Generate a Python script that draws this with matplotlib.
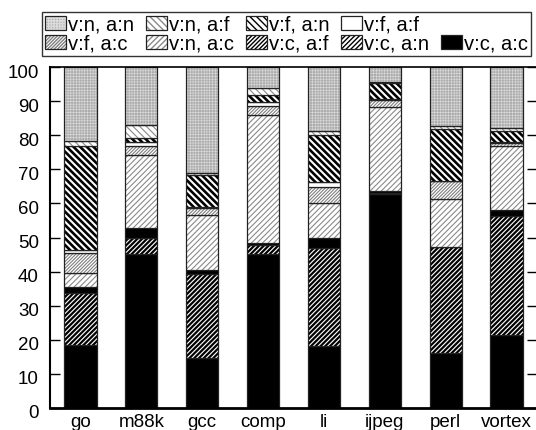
import numpy as np
import matplotlib
matplotlib.use("Agg")
import matplotlib.pyplot as plt
import matplotlib.transforms as mtransforms
from matplotlib.patches import Patch

plt.rcParams["font.family"] = ["Liberation Sans", "DejaVu Sans"]

benchmarks = ["go", "m88k", "gcc", "comp", "li", "ijpeg", "perl", "vortex"]

# percentage of each class per benchmark, stacked bottom to top
v_c_a_c = [18.6, 45.2, 14.8, 45.2, 18.2, 62.9, 16.2, 21.3]
v_c_a_n = [15.1, 4.8, 24.4, 2.5, 28.7, 0.2, 30.9, 34.9]
v_c_a_f = [1.7, 2.7, 1.3, 0.6, 2.9, 0.4, 0.2, 2.0]
v_n_a_c = [4.3, 21.5, 16.0, 37.7, 10.4, 24.8, 14.0, 18.6]
v_f_a_c = [5.8, 2.6, 2.1, 2.6, 4.6, 2.1, 5.2, 0.9]
v_f_a_f = [0.8, 1.3, 0.2, 1.0, 1.6, 0.3, 0.2, 0.4]
v_f_a_n = [30.5, 1.1, 9.6, 2.3, 13.8, 4.5, 15.2, 3.1]
v_n_a_f = [1.4, 3.9, 0.6, 2.0, 0.9, 0.5, 0.8, 0.8]
v_n_a_n = [21.8, 16.9, 31.0, 6.1, 18.9, 4.3, 17.3, 18.0]

# label, values, face colour, hatch, hatch colour, hatch line width
layers = [
    ("v:c, a:c", v_c_a_c, "black", None, "black", 1.0),
    ("v:c, a:n", v_c_a_n, "white", "/" * 7, "black", 1.6),
    ("v:c, a:f", v_c_a_f, "white", "/" * 8, "black", 2.2),
    ("v:n, a:c", v_n_a_c, "white", "/" * 6, "#8a8a8a", 0.8),
    ("v:f, a:c", v_f_a_c, "white", "/" * 10, "#808080", 0.8),
    ("v:f, a:f", v_f_a_f, "white", None, "black", 1.0),
    ("v:f, a:n", v_f_a_n, "white", "\\" * 5, "black", 1.9),
    ("v:n, a:f", v_n_a_f, "white", "\\" * 5, "#8a8a8a", 0.8),
    ("v:n, a:n", v_n_a_n, "#acacac", "+" * 6, "#dcdcdc", 0.4),
]

fig = plt.figure(figsize=(5.36, 4.30), dpi=100)
ax = fig.add_axes([50 / 536, 22 / 430, 487 / 536, 341 / 430])

x = np.arange(len(benchmarks))
width = 0.53
bottom = np.zeros(len(benchmarks))
handles = {}
for label, vals, face, hatch, hcol, hlw in layers:
    vals = np.array(vals)
    with plt.rc_context({"hatch.linewidth": hlw}):
        fill = ax.bar(x, vals, width, bottom=bottom, color=face,
                      edgecolor=hcol, linewidth=0, hatch=hatch)
        for p in fill:
            if hasattr(p, "set_hatch_linewidth"):
                p.set_hatch_linewidth(hlw)
        h_fill = Patch(facecolor=face, edgecolor=hcol, linewidth=0, hatch=hatch)
        if hasattr(h_fill, "set_hatch_linewidth"):
            h_fill.set_hatch_linewidth(hlw)
    ax.bar(x, vals, width, bottom=bottom, fill=False,
           edgecolor="#222222", linewidth=0.9)
    h_edge = Patch(fill=False, edgecolor="#222222", linewidth=0.9)
    handles[label] = (h_fill, h_edge)
    bottom += vals

ax.set_xlim(-0.5, 7.5)
ax.set_ylim(0, 100)
ax.set_xticks(x)
ax.set_xticklabels(benchmarks)
ax.set_yticks(np.arange(0, 101, 10))

ax.tick_params(axis="x", length=0, labelsize=13.5, pad=4)
ax.tick_params(axis="y", direction="in", length=7, width=1,
               left=True, right=True, labelsize=13.5, pad=8)
for side, lw in (("left", 1.5), ("bottom", 2.0), ("top", 1.2), ("right", 1.2)):
    ax.spines[side].set_linewidth(lw)

offset = mtransforms.ScaledTranslation(0, -4 / 100, fig.dpi_scale_trans)
for lab in ax.get_yticklabels():
    lab.set_transform(lab.get_transform() + offset)

# legend: two rows, top of the stack listed first
blank = Patch(facecolor="none", edgecolor="none")
order = ["v:n, a:n", "v:f, a:c", "v:n, a:f", "v:n, a:c", "v:f, a:n",
         "v:c, a:f", "v:f, a:f", "v:c, a:n", None, "v:c, a:c"]
leg_handles = [handles[k] if k else blank for k in order]
leg_labels = [k if k else "" for k in order]
leg = fig.legend(leg_handles, leg_labels, ncol=5, loc="upper left",
                 bbox_to_anchor=(42 / 536, 1 - 12 / 430),
                 frameon=True, fancybox=False, edgecolor="black",
                 fontsize=14.5, handlelength=1.05, handleheight=0.65,
                 handletextpad=0.1, columnspacing=0.58, labelspacing=0.0,
                 borderpad=0.15, borderaxespad=0)
leg.get_frame().set_linewidth(1.0)

fig.savefig("out.png", dpi=100)
